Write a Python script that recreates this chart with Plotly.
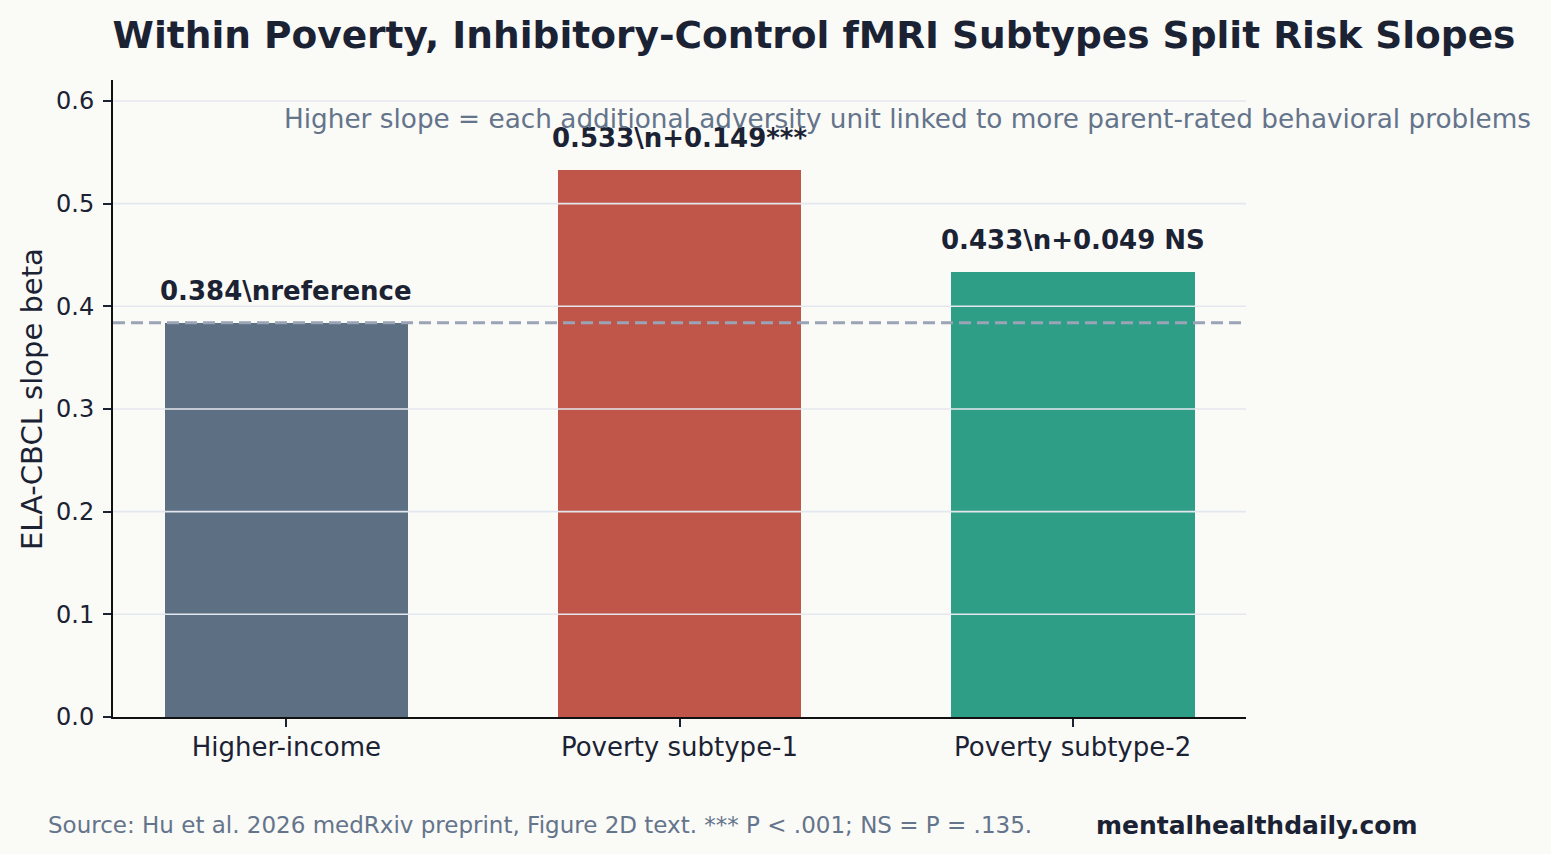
import plotly.graph_objects as go

categories = ["Higher-income", "Poverty subtype-1", "Poverty subtype-2"]
slopes = [0.384, 0.533, 0.433]
bar_labels = ["0.384\\nreference", "0.533\\n+0.149***", "0.433\\n+0.049 NS"]
bar_colors = ["#5d6f82", "#c0564a", "#2e9e86"]
reference_slope = 0.384
y_ticks = [0.0, 0.1, 0.2, 0.3, 0.4, 0.5, 0.6]

TEXT = "#1a2233"
GRAY = "#64748b"
BG = "#fafaf7"
FONT = "DejaVu Sans"

L, R, T, B = 113, 1246, 80, 717
W, H = 1551, 854
pw, ph = R - L, B - T

def px(x):
    return (x - L) / pw

def py(y):
    return (B - y) / ph

fig = go.Figure()
fig.add_trace(go.Bar(
    x=list(range(len(categories))), y=slopes, width=0.62,
    marker=dict(color=bar_colors, line=dict(width=0)),
    hoverinfo="skip", showlegend=False,
))

shapes = []
for t in y_ticks[1:]:
    shapes.append(dict(type="line", xref="x domain", yref="y", x0=0, x1=1, y0=t, y1=t,
                       line=dict(color="#e4e7ee", width=1.6), layer="above"))
shapes.append(dict(type="line", xref="x domain", yref="y", x0=0, x1=1,
                   y0=reference_slope, y1=reference_slope,
                   line=dict(color="#9aa4b6", width=2.8, dash="12px,6px"), layer="above"))

annotations = []
for i, (v, lab) in enumerate(zip(slopes, bar_labels)):
    annotations.append(dict(x=i, y=v, xref="x", yref="y", text=f"<b>{lab}</b>",
                            showarrow=False, yanchor="middle", yshift=32,
                            font=dict(family=FONT, size=26, color=TEXT)))
annotations.append(dict(x=px(1533), y=py(119), xref="paper", yref="paper",
                        text="Higher slope = each additional adversity unit linked to more parent-rated behavioral problems",
                        showarrow=False, xanchor="right", yanchor="middle",
                        font=dict(family=FONT, size=26.3, color=GRAY)))
annotations.append(dict(x=px(32), y=py(399), xref="paper", yref="paper",
                        text="ELA-CBCL slope beta", textangle=-90, showarrow=False,
                        xanchor="center", yanchor="middle",
                        font=dict(family=FONT, size=29, color=TEXT)))
annotations.append(dict(x=px(46), y=py(825), xref="paper", yref="paper",
                        text="Source: Hu et al. 2026 medRxiv preprint, Figure 2D text. *** P < .001; NS = P = .135.",
                        showarrow=False, xanchor="left", yanchor="middle",
                        font=dict(family=FONT, size=23, color=GRAY)))
annotations.append(dict(x=px(1094), y=py(825), xref="paper", yref="paper",
                        text="<b>mentalhealthdaily.com</b>",
                        showarrow=False, xanchor="left", yanchor="middle",
                        font=dict(family=FONT, size=25, color=TEXT)))

fig.update_layout(
    width=W, height=H,
    margin=dict(l=L, r=W - R, t=T, b=H - B, pad=0),
    paper_bgcolor=BG, plot_bgcolor=BG,
    font=dict(family=FONT, color=TEXT),
    title=dict(text="<b>Within Poverty, Inhibitory-Control fMRI Subtypes Split Risk Slopes</b>",
               x=814 / W, xanchor="center", y=1 - 35 / H, yanchor="middle",
               font=dict(family=FONT, size=37.5, color=TEXT)),
    xaxis=dict(range=[-0.441, 2.441], tickmode="array", tickvals=list(range(len(categories))),
               ticktext=categories, showgrid=False, zeroline=False,
               showline=True, linecolor="#111111", linewidth=2,
               ticks="outside", ticklen=8, tickwidth=1.5, tickcolor=TEXT,
               ticklabelstandoff=-2,
               tickfont=dict(family=FONT, size=26, color=TEXT), fixedrange=True),
    yaxis=dict(range=[0, 0.6204], tickmode="array", tickvals=y_ticks,
               ticktext=[f"{t:.1f}" for t in y_ticks], showgrid=False, zeroline=False,
               showline=True, linecolor="#111111", linewidth=2,
               ticks="outside", ticklen=8, tickwidth=1.5, tickcolor=TEXT,
               ticklabelstandoff=4,
               tickfont=dict(family=FONT, size=24, color=TEXT), fixedrange=True),
    shapes=shapes, annotations=annotations, bargap=0,
)

fig.write_html("out.html")
